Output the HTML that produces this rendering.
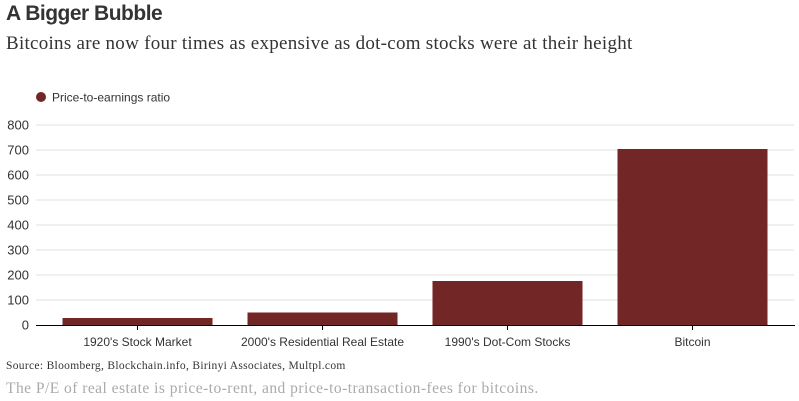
<!DOCTYPE html>
<html><head><meta charset="utf-8"><style>
body{margin:0;width:799px;height:401px;background:#fff;overflow:hidden;position:relative;font-family:"Liberation Sans",sans-serif}
.t{position:absolute;left:6px;top:2px;font-size:21px;font-weight:bold;color:#333;letter-spacing:-0.5px}
.s{position:absolute;left:6px;top:33px;font-family:"Liberation Serif",serif;font-size:19px;color:#333;letter-spacing:0.27px}
.src{position:absolute;left:6px;top:360px;font-family:"Liberation Serif",serif;font-size:11.5px;color:#333;letter-spacing:0.32px}
.note{position:absolute;left:6px;top:380px;font-family:"Liberation Serif",serif;font-size:15.5px;color:#aaa;letter-spacing:0.47px}
svg{position:absolute;left:0;top:0}
</style></head><body>
<div class="t">A Bigger Bubble</div>
<div class="s">Bitcoins are now four times as expensive as dot-com stocks were at their height</div>
<svg id="c" width="799" height="401">
<circle cx="41" cy="97" r="5" fill="#722626"/>
<text x="52" y="101.5" font-size="12" fill="#333" font-family="Liberation Sans, sans-serif">Price-to-earnings ratio</text>
</svg>
<div class="src">Source: Bloomberg, Blockchain.info, Birinyi Associates, Multpl.com</div>
<div class="note">The P/E of real estate is price-to-rent, and price-to-transaction-fees for bitcoins.</div>
<script>
const categories=["1920's Stock Market","2000's Residential Real Estate","1990's Dot-Com Stocks","Bitcoin"];
const values=[28,50,176,704];
const ticks=[0,100,200,300,400,500,600,700,800];
const NS="http://www.w3.org/2000/svg";
const svg=document.getElementById('c');
const y0=325,y1=125,vmax=800,xl=45,xr=785;
const y=v=>y0-(v/vmax)*(y0-y1);
const band=(xr-xl)/categories.length;
const xc=i=>xl+band*(i+0.5);
function mk(t,a){const e=document.createElementNS(NS,t);for(const k in a)e.setAttribute(k,a[k]);svg.appendChild(e);return e;}
ticks.forEach(v=>{
 if(v>0){const g=mk('line',{x1:36,x2:794,y1:y(v),y2:y(v),stroke:'#e2e2e2','stroke-width':1});
 
 }
 const t=mk('text',{x:29,y:y(v)+4.5,'text-anchor':'end','font-size':13,fill:'#333','font-family':'Liberation Sans, sans-serif'});
 t.textContent=v;
 
 
});
categories.forEach((c,i)=>{
 const w=150;
 const r=mk('rect',{x:xc(i)-w/2,y:y(values[i]),width:w,height:y0-y(values[i]),fill:'#722626'});
 
 
 const tk=mk('line',{x1:xc(i),x2:xc(i),y1:y0,y2:y0+5,stroke:'#000'});
 
 
 const t=mk('text',{x:xc(i),y:346,'text-anchor':'middle','font-size':12,fill:'#333','font-family':'Liberation Sans, sans-serif'});
 t.textContent=c;
 
 
});
const ax=mk('line',{x1:36,x2:795,y1:y0+0.5,y2:y0+0.5,stroke:'#000','stroke-width':1});


</script>
</body></html>
